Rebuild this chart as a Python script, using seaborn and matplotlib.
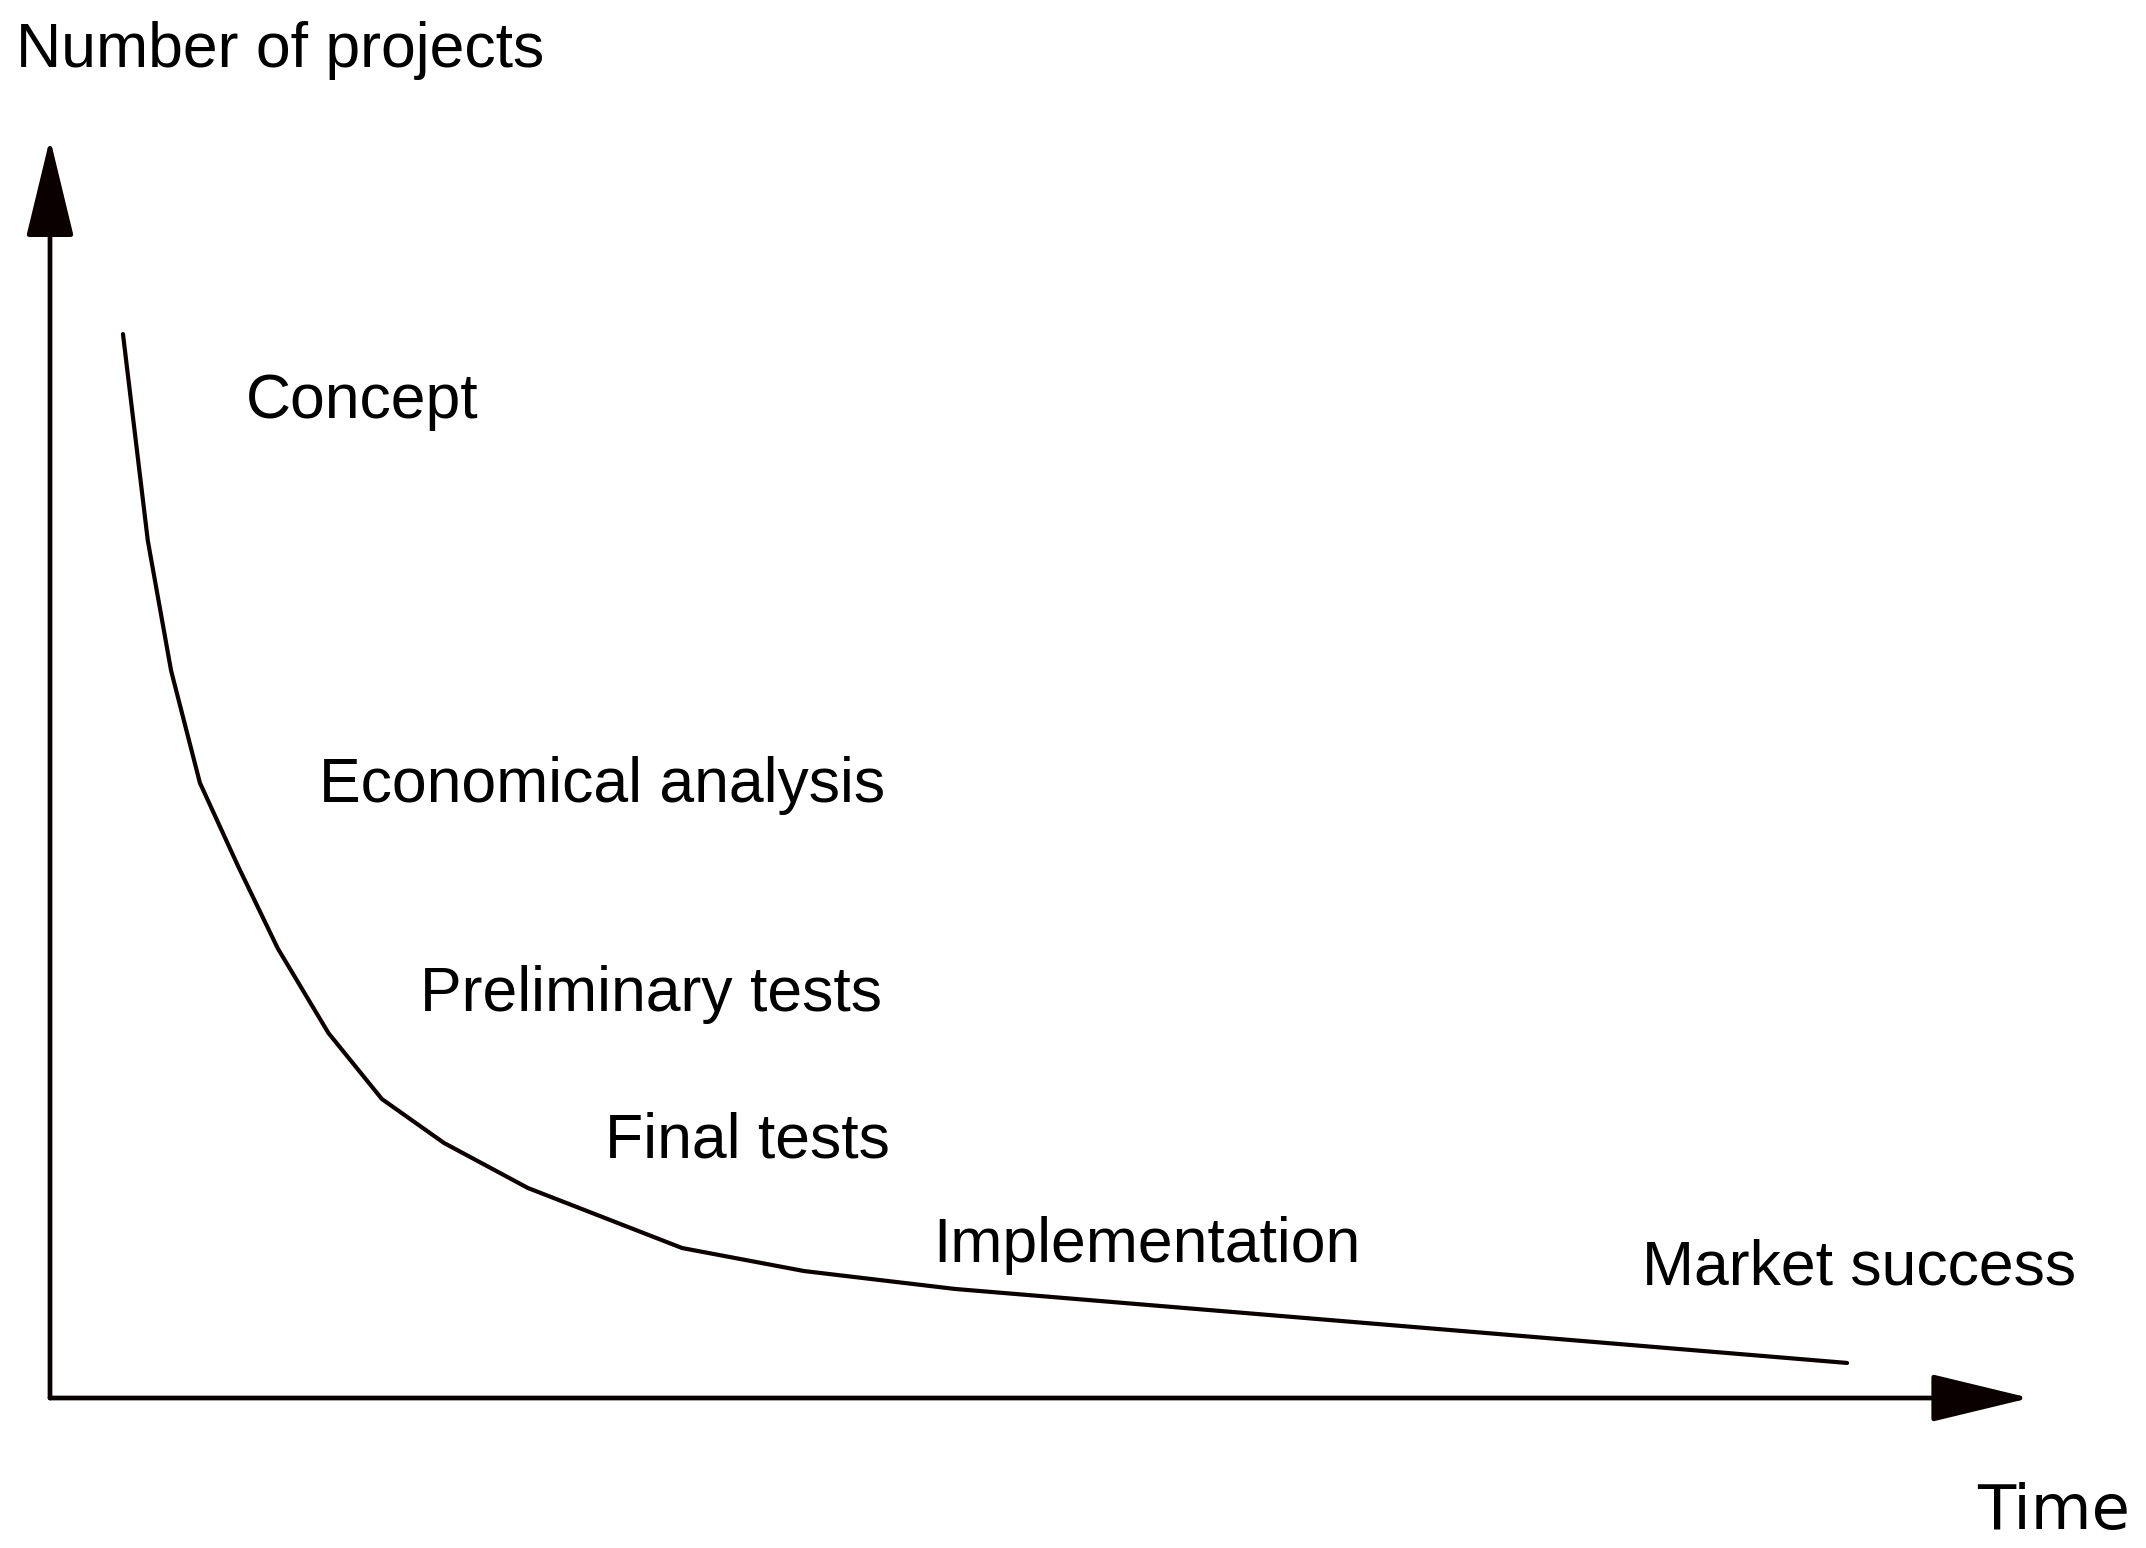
import matplotlib
matplotlib.use("Agg")
import matplotlib.pyplot as plt
import seaborn as sns
import pandas as pd

# curve: time (0-100 along the x arrow) vs number of projects (0-100 along the y arrow)
time = [3.70, 4.96, 6.14, 7.60, 9.54, 11.55, 14.12, 16.83, 19.98, 24.24, 32.05, 38.24, 45.89, 91.13]
projects = [84.98, 68.48, 58.10, 49.14, 42.47, 35.91, 29.15, 23.88, 20.37, 16.77, 11.98, 10.14, 8.71, 2.80]

stages = ["Concept", "Economical analysis", "Preliminary tests", "Final tests",
          "Implementation", "Market success"]
stage_x = [9.94, 13.64, 18.76, 28.14, 44.78, 80.73]
stage_y = [78.27, 47.60, 30.91, 19.17, 10.86, 9.03]

y_title = "Number of projects"
x_title = "Time"

sns.set_style("white")
plt.rcParams["font.family"] = ["Liberation Sans", "DejaVu Sans"]
plt.rcParams["text.color"] = "black"

W, H = 2146, 1548
fig = plt.figure(figsize=(W / 100, H / 100), dpi=100)
ax = fig.add_axes([50 / W, 150 / H, 1972 / W, 1252 / H])
ax.set_xlim(0, 100)
ax.set_ylim(0, 100)
ax.set_axis_off()

ink = "#0a0000"
df = pd.DataFrame({"time": time, "projects": projects})
sns.lineplot(data=df, x="time", y="projects", ax=ax, color=ink, linewidth=3.0,
             sort=False, estimator=None)

# axis arrows
arrow = dict(arrowstyle="-|>,head_length=62,head_width=15", mutation_scale=1,
             lw=3.4, color=ink, shrinkA=0, shrinkB=0)
ax.annotate("", xy=(1.004, 0), xytext=(0, 0), xycoords="axes fraction", arrowprops=arrow)
ax.annotate("", xy=(0, 1.006), xytext=(0, 0), xycoords="axes fraction", arrowprops=arrow)

for label, x, y in zip(stages, stage_x, stage_y):
    ax.text(x, y, label, fontsize=45, ha="left", va="baseline", color="black")

fig.text(0.0075, 0.9567, y_title, fontsize=45, ha="left", va="baseline", color="black")
fig.text(0.9925, 0.0122, x_title, fontsize=45, ha="right", va="baseline",
         color="black", family=["DejaVu Sans"])

fig.savefig("out.png", dpi=100, facecolor="white")
